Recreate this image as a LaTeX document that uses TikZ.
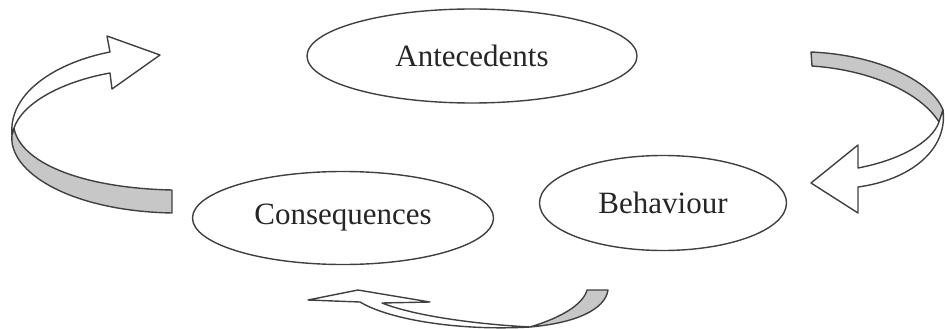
\documentclass[tikz,border=0pt]{standalone}
\usepackage{fontspec}
\setmainfont{Liberation Serif}
\usetikzlibrary{shapes.geometric}

\begin{document}
\begin{tikzpicture}[x=1pt, y=-1pt,
    stage/.style={ellipse, draw=black!75, line width=1.4pt, inner sep=0pt, font=\fontsize{31}{36}\selectfont, text=black!85},
    front/.style={draw=black!75, line width=1.4pt, fill=white, line join=round},
    back/.style={draw=black!75, line width=1.4pt, fill=black!22, line join=round}]

\useasboundingbox (0,0) rectangle (945,329);

% the three stages
\node[stage, minimum width=330, minimum height=94] (ante) at (472,56) {Antecedents};
\node[stage, minimum width=247, minimum height=95] (beha) at (663,203) {Behaviour};
\node[stage, minimum width=301, minimum height=93] (cons) at (343,218) {Consequences};

% left arrow: consequences back to antecedents
\draw[back] (14,128) .. controls (20,162) and (80,188) .. (172,190) -- (172,213)
    .. controls (70,211) and (8,172) .. (12,135) -- cycle;
\draw[front] (12,135) .. controls (8,92) and (58,62) .. (110,52) -- (107,36) -- (160,55)
    -- (112,89) -- (110,73) .. controls (60,82) and (22,104) .. (14,128) -- cycle;

% right arrow: antecedents to behaviour
\draw[back] (811,52) .. controls (880,55) and (932,82) .. (943,110) -- (939,122)
    .. controls (920,92) and (870,70) .. (812,66) -- cycle;
\draw[front] (943,110) .. controls (948,150) and (910,180) .. (858,187) -- (858,213)
    -- (811,183) -- (858,145) -- (858,168) .. controls (900,160) and (932,142) .. (939,122) -- cycle;

% bottom arrow: behaviour to consequences
\draw[back] (587,290) -- (608,290) .. controls (605,310) and (575,323) .. (530,327)
    .. controls (560,318) and (583,305) .. (587,290) -- cycle;
\draw[front] (530,327) .. controls (460,331) and (390,320) .. (360,302) -- (308,300)
    -- (358,290) -- (430,302) -- (382,303) .. controls (420,318) and (490,325) .. (530,327) -- cycle;
\end{tikzpicture}
\end{document}
